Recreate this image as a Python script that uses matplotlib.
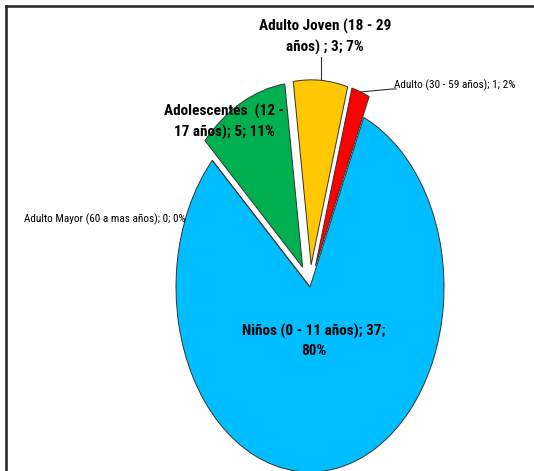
import numpy as np
import matplotlib.pyplot as plt
from matplotlib import font_manager

# age groups, clockwise from the upper left
groups = ['Adolescentes  (12 -\n17 años)', 'Adulto Joven (18 - 29\naños) ',
          'Adulto (30 - 59 años)', 'Niños (0 - 11 años)',
          'Adulto Mayor (60 a mas años)']
counts = [5, 3, 1, 37, 0]
colors = ['#00B050', '#FFC800', '#FF0000', '#00BEFF', '#7F7F7F']
explode = [0.12, 0.12, 0.12, 0, 0]

installed = {f.name for f in font_manager.fontManager.ttflist}
narrow = [n for n in ['Roboto Condensed', 'Open Sans Condensed',
                      'PT Sans Narrow', 'Archivo Narrow', 'Fira Sans Condensed',
                      'Carlito', 'Liberation Sans Narrow', 'Lato']
          if n in installed]
font = narrow[0] if narrow else 'DejaVu Sans'

W, H = 534, 471
cx, cy = 310, 287      # pie centre, pixels from top-left
rx, ry = 134, 185      # radius in pixels (Excel stretched the pie)

fig = plt.figure(figsize=(W / 100, H / 100), dpi=100)
ax = fig.add_axes([0, 0, 1, 1])

wedges, _ = ax.pie(counts, colors=colors, explode=explode, startangle=136.8,
                   counterclock=False, radius=1,
                   wedgeprops=dict(edgecolor='#333333', linewidth=0.7))
ax.set_aspect('auto')
ax.set_xlim(-cx / rx, (W - cx) / rx)
ax.set_ylim(-(H - cy) / ry, cy / ry)
ax.axis('off')


def px(x, y):
    return x / W, 1 - y / H


def outer(i, r=1.0):
    w = wedges[i]
    th = np.deg2rad((w.theta1 + w.theta2) / 2)
    return w.center[0] + r * np.cos(th), w.center[1] + r * np.sin(th)


def fit_size(s, width, **kw):
    # font size that makes s about `width` pixels wide
    t = fig.text(0, 0, s, fontsize=10, family=font, **kw)
    w = t.get_window_extent(fig.canvas.get_renderer()).width
    t.remove()
    return 10 * width / w


total = sum(counts)
pct = [round(100 * c / total) for c in counts]

bsize = fit_size('Niños (0 - 11 años); 37;', 144, fontweight='bold')
ssize = fit_size('Adulto Mayor (60 a mas años); 0; 0%', 160)

big = dict(fontsize=bsize, fontweight='bold', family=font, ha='center',
           va='center', linespacing=1.45, transform=fig.transFigure)
small = dict(fontsize=ssize, family=font, va='center',
             transform=fig.transFigure)

ax.text(*px(224, 122), f'{groups[0]}; {counts[0]}; {pct[0]}%', **big)
ax.text(*px(325, 37), f'{groups[1]}; {counts[1]}; {pct[1]}%', **big)
ax.text(*px(314, 341), f'{groups[3]}; {counts[3]};\n{pct[3]}%', **big)
ax.text(*px(394, 85), f'{groups[2]}; {counts[2]}; {pct[2]}%',
        ha='left', **small)
ax.text(*px(186, 219), f'{groups[4]}; {counts[4]}; {pct[4]}%',
        ha='right', **small)

# leader lines
x1, y1 = outer(1)
ax.plot([x1, x1], [y1, (cy - 57) / ry], color='#333333', lw=0.8)
x2, y2 = outer(2)
ax.plot([x2, (392 - cx) / rx, (396 - cx) / rx],
        [y2, (cy - 89) / ry, (cy - 89) / ry], color='#333333', lw=0.8)

# chart border: only top and left edges are visible
fig.add_artist(plt.Line2D([6 / W, 1], [1 - 6 / H, 1 - 6 / H],
                          color='#222222', lw=1.8))
fig.add_artist(plt.Line2D([6 / W, 6 / W], [0, 1 - 6 / H],
                          color='#222222', lw=1.8))

fig.savefig('out.png', dpi=100)
